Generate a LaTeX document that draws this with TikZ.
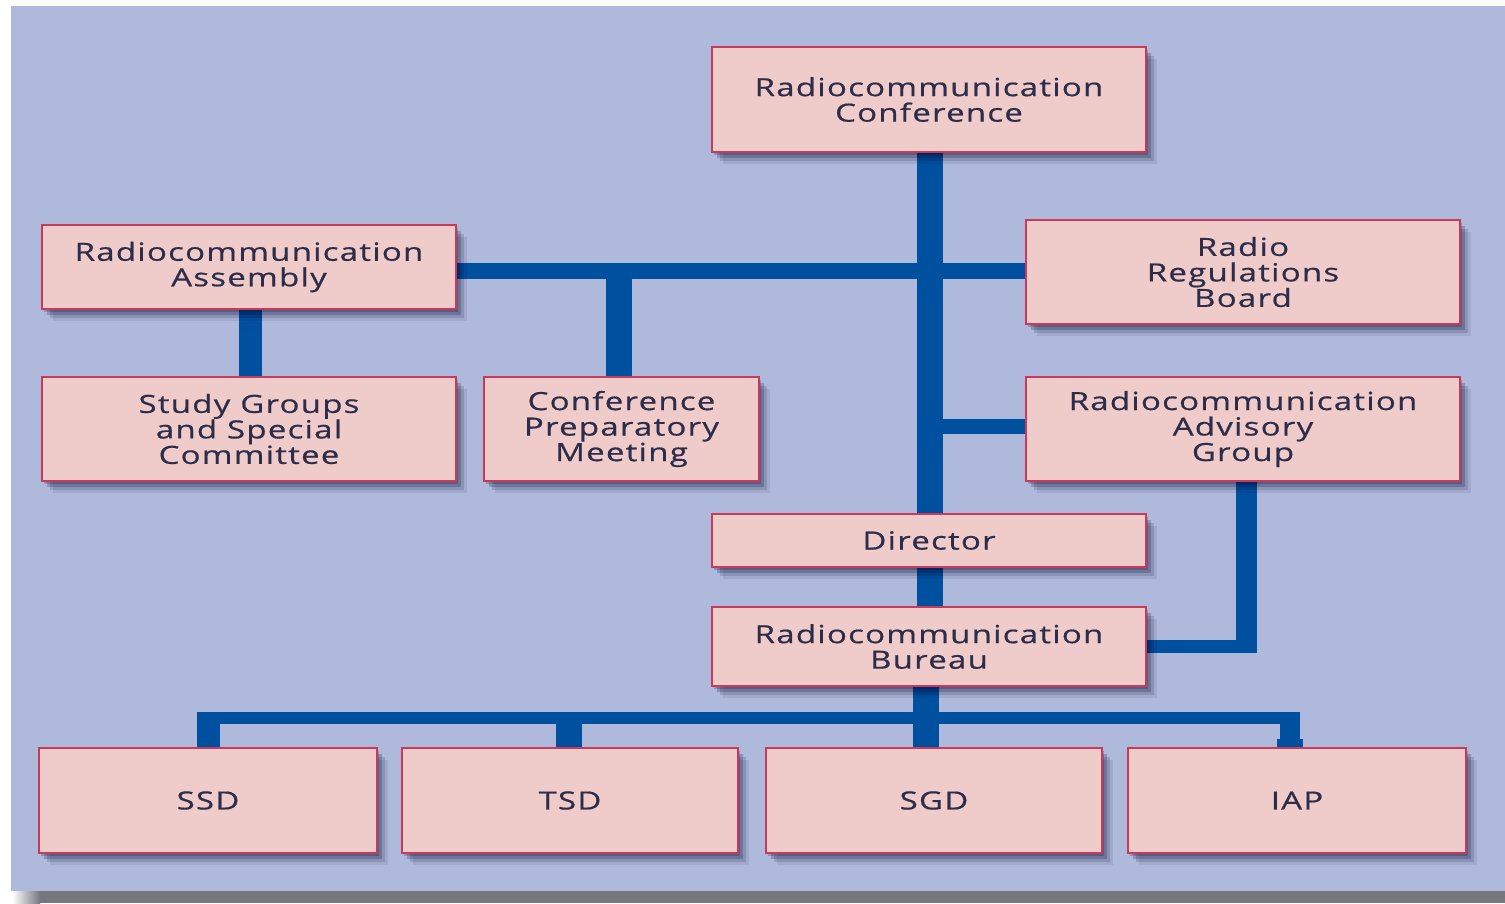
\documentclass[tikz,border=0pt]{standalone}
\usepackage{fontspec}
\setmainfont{Open Sans}[FakeStretch=1.32, LetterSpace=5, FakeBold=0.6]
\usetikzlibrary{shadows}
\definecolor{panel}{HTML}{AFB9DC}
\definecolor{boxfill}{HTML}{EFCBCA}
\definecolor{boxline}{HTML}{C83A5C}
\definecolor{connc}{HTML}{0050A0}
\definecolor{txt}{HTML}{2D2D4A}
\definecolor{pshadow}{HTML}{74787E}
\pgfdeclarelayer{bg}
\pgfdeclarelayer{edges}
\pgfsetlayers{bg,edges,main}
\tikzset{
  orgbox/.style={draw=boxline, line width=2.5pt, fill=boxfill, rectangle,
    inner sep=0pt, align=center, text=txt,
    font=\fontsize{25}{25.5}\selectfont,
    general shadow={shadow xshift=11pt, shadow yshift=-12pt, fill=black!85!blue, opacity=0.08},
    general shadow={shadow xshift=8pt, shadow yshift=-9pt, fill=black!85!blue, opacity=0.14},
    general shadow={shadow xshift=5pt, shadow yshift=-6pt, fill=black!85!blue, opacity=0.2},
    general shadow={shadow xshift=2pt, shadow yshift=-3pt, fill=black!85!blue, opacity=0.2}},
  conn/.style={draw=connc, line cap=butt}
}
\begin{document}
\begin{tikzpicture}[x=1pt,y=-1pt]
\useasboundingbox (0,0) rectangle (1505,903);
\begin{pgfonlayer}{bg}
  \fill[panel] (11,6) rectangle (1505,891);
  \fill[pshadow] (40,891) rectangle (1505,903);
  \shade[left color=white, right color=pshadow] (12,891) rectangle (40,903);
\end{pgfonlayer}

% nodes
\node[orgbox, minimum width=434pt, minimum height=105pt] (conf) at (929,99.5) {Radiocommunication\\Conference};
\node[orgbox, minimum width=414pt, minimum height=84pt] (asm) at (249,267) {Radiocommunication\\Assembly};
\node[orgbox, minimum width=414pt, minimum height=104pt] (sg) at (249,429) {Study Groups\\and Special\\Committee};
\node[orgbox, minimum width=275pt, minimum height=104pt] (cpm) at (621.5,429) {Conference\\Preparatory\\Meeting};
\node[orgbox, minimum width=434pt, minimum height=104pt] (rrb) at (1243,272) {Radio\\Regulations\\Board};
\node[orgbox, minimum width=434pt, minimum height=104pt] (rag) at (1243,429) {Radiocommunication\\Advisory\\Group};
\node[orgbox, minimum width=434pt, minimum height=53pt] (dir) at (929,540.5) {Director};
\node[orgbox, minimum width=434pt, minimum height=79pt] (bur) at (929,646.5) {Radiocommunication\\Bureau};
\node[orgbox, minimum width=338pt, minimum height=105pt] (ssd) at (208,800.5) {SSD};
\node[orgbox, minimum width=336pt, minimum height=105pt] (tsd) at (570,800.5) {TSD};
\node[orgbox, minimum width=336pt, minimum height=105pt] (sgd) at (934,800.5) {SGD};
\node[orgbox, minimum width=338pt, minimum height=105pt] (iap) at (1297,800.5) {IAP};

\coordinate (hy) at (0,271);
\coordinate (ragy) at (0,426);
\coordinate (bus) at (0,718);
\coordinate (trunkx) at (930,0);
\coordinate (ragx) at (1246,0);
\coordinate (iapx) at (1290,0);
\coordinate (burx) at (926,0);

\begin{pgfonlayer}{edges}
  % main trunk
  \draw[conn, line width=26pt] (trunkx |- conf.south) -- (trunkx |- dir.north);
  % top horizontal
  \draw[conn, line width=16pt] (asm.east |- hy) -- (rrb.west |- hy);
  % to CPM
  \draw[conn, line width=26pt, shorten <=-8pt] ([xshift=-2.5pt]cpm.north |- hy) -- ([xshift=-2.5pt]cpm.north);
  % assembly to study groups
  \draw[conn, line width=23pt] ([xshift=1.5pt]asm.south) -- ([xshift=1.5pt]sg.north);
  % to advisory group
  \draw[conn, line width=15pt] (trunkx |- ragy) -- (rag.west |- ragy);
  % director to bureau
  \draw[conn, line width=26pt] (trunkx |- dir.south) -- (trunkx |- bur.north);
  % advisory group to bureau
  \draw[conn, line width=21pt, shorten >=-6pt] (ragx |- rag.south) -- (ragx |- bur.east);
  \draw[conn, line width=13pt, shorten >=-10.5pt] (bur.east) -- (ragx |- bur.east);
  % bureau down to bus and SGD
  \draw[conn, line width=26pt] (burx |- bur.south) -- (burx |- sgd.north);
  % bus
  \draw[conn, line width=12pt, shorten <=-11.5pt, shorten >=-10pt] (ssd.north |- bus) -- (iapx |- bus);
  \draw[conn, line width=23pt, shorten <=-6pt] (ssd.north |- bus) -- (ssd.north);
  \draw[conn, line width=26pt, shorten <=-6pt] ([xshift=-1pt]tsd.north |- bus) -- ([xshift=-1pt]tsd.north);
  \draw[conn, line width=20pt, shorten <=-6pt] (iapx |- bus) -- (iapx |- iap.north);
  \draw[conn, line width=26pt] ([yshift=8pt]iapx |- iap.north) -- (iapx |- iap.north);
\end{pgfonlayer}
\end{tikzpicture}
\end{document}
